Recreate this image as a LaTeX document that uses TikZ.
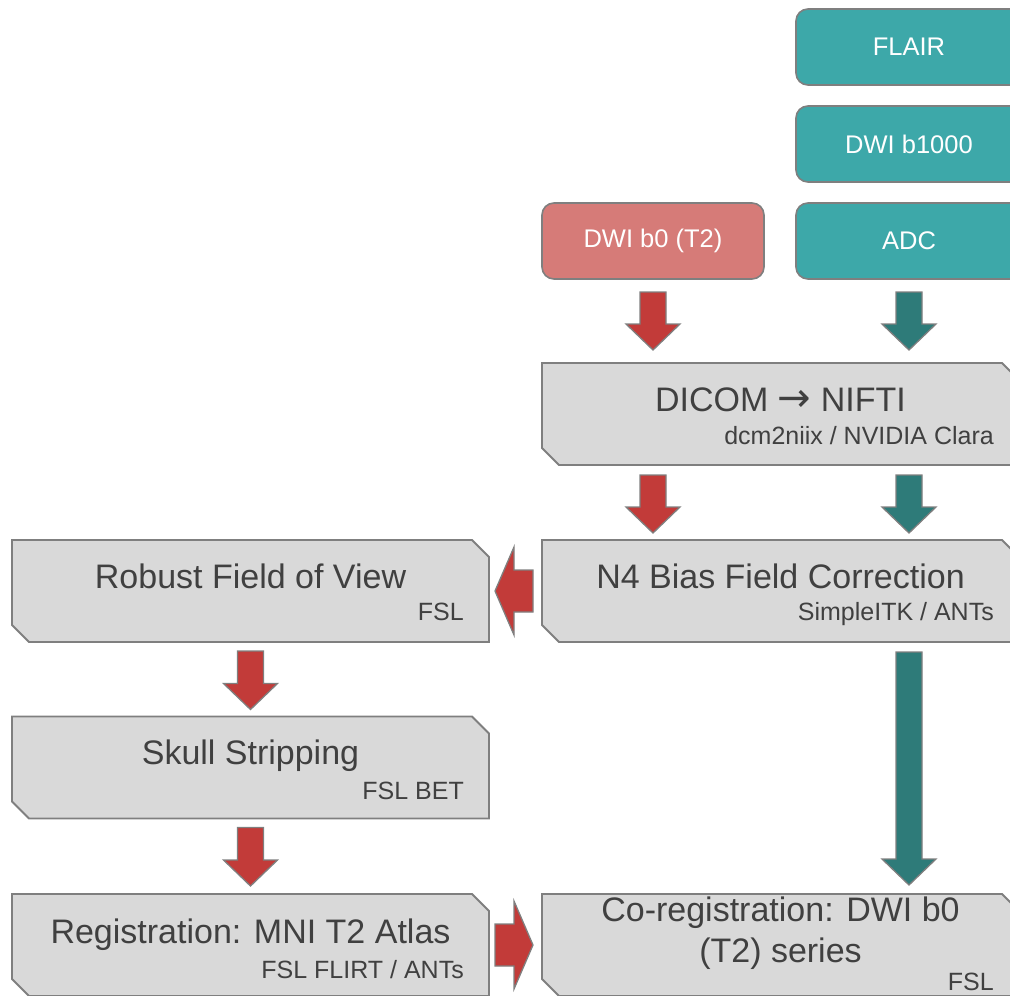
\documentclass[tikz,border=0pt]{standalone}
\usepackage{fontspec}
\setmainfont{Liberation Sans}
\newfontfamily\arrowfont{DejaVu Sans}
\usetikzlibrary{calc}

\definecolor{tealbox}{HTML}{3DA8A9}
\definecolor{pinkbox}{HTML}{D67B78}
\definecolor{redarrow}{HTML}{C23B39}
\definecolor{tealarrow}{HTML}{2E7B79}
\definecolor{stagefill}{HTML}{D9D9D9}
\definecolor{edgegray}{HTML}{7F7F7F}
\definecolor{inkgray}{HTML}{404040}

% block arrow: #1 style, #2 tail, #3 tip, #4 half shaft width, #5 half head width, #6 head length
\newcommand\blockarrow[6]{%
  \coordinate (hb) at ($(#3)!#6!(#2)$);
  \path[#1] ($(#2)!#4!90:(#3)$) -- ($(hb)!#4!90:(#3)$) -- ($(hb)!#5!90:(#3)$) -- (#3)
    -- ($(hb)!#5!-90:(#3)$) -- ($(hb)!#4!-90:(#3)$) -- ($(#2)!#4!-90:(#3)$) -- cycle;
}
% processing stage outline with snipped north-east and south-west corners
\newcommand\snipframe[1]{%
  \path[stageframe] (#1.north west) -- ($(#1.north east)+(-17pt,0)$) -- ($(#1.north east)+(0,-17pt)$)
    -- (#1.south east) -- ($(#1.south west)+(17pt,0)$) -- ($(#1.south west)+(0,17pt)$) -- cycle;
}

\tikzset{
  series/.style={rounded corners=12pt, draw=edgegray, line width=1.6pt, text=white,
    font=\fontsize{25.5}{30}\selectfont, minimum height=76pt, inner sep=0pt, outer sep=0pt},
  tealseries/.style={series, fill=tealbox, minimum width=226pt},
  pinkseries/.style={series, fill=pinkbox, minimum width=222pt},
  stage/.style={minimum width=477pt, minimum height=102pt, inner sep=0pt, outer sep=0pt},
  stageframe/.style={fill=stagefill, draw=edgegray, line width=1.8pt, line join=miter},
  stagemain/.style={text=inkgray, font=\fontsize{34}{40}\selectfont, inner sep=0pt, anchor=base},
  stagesub/.style={text=inkgray, font=\fontsize{25}{30}\selectfont, inner sep=0pt, anchor=base east},
  redblk/.style={fill=redarrow, draw=edgegray, line width=1.3pt, line join=miter},
  tealblk/.style={fill=tealarrow, draw=edgegray, line width=1.3pt, line join=miter},
}

\begin{document}
\begin{tikzpicture}[x=1pt, y=-1pt]
\useasboundingbox (0,0) rectangle (1010,996);
\clip (0,0) rectangle (1010,996);

% input series
\node[tealseries] (flair) at (909,47) {FLAIR};
\node[tealseries] (dwi)   at (909,144) {DWI b1000};
\node[tealseries] (adc)   at (909,241) {ADC};
\node[pinkseries] (b0)    at (653,241) {DWI b0 (T2)};

% processing stages
\node[stage] (dicom)  at (780.5,414) {};
\node[stage] (n4)     at (780.5,591) {};
\node[stage] (robust) at (250.5,591) {};
\node[stage] (skull)  at (250.5,767.5) {};
\node[stage] (reg)    at (250.5,945) {};
\node[stage] (coreg)  at (780.5,945) {};
\snipframe{dicom}
\snipframe{n4}
\snipframe{robust}
\snipframe{skull}
\snipframe{reg}
\snipframe{coreg}

\node[stagemain] (dicomA) at ($(dicom.north)+(0,-48pt)$) {DICOM {\arrowfont\fontsize{40}{40}\selectfont →} NIFTI};
\node[stagesub] (dicomB) at ($(dicom.north east)+(-25pt,-81pt)$) {dcm2niix / NVIDIA Clara};
\node[stagemain] (n4A) at ($(n4.north)+(0,-48pt)$) {N4 Bias Field Correction};
\node[stagesub] (n4B) at ($(n4.north east)+(-25pt,-80pt)$) {SimpleITK / ANTs};
\node[stagemain] (robustA) at ($(robust.north)+(0,-48pt)$) {Robust Field of View};
\node[stagesub] (robustB) at ($(robust.north east)+(-25pt,-80pt)$) {FSL};
\node[stagemain] (skullA) at ($(skull.north)+(0,-48pt)$) {Skull Stripping};
\node[stagesub] (skullB) at ($(skull.north east)+(-25pt,-83pt)$) {FSL BET};
\node[stagemain] (regA) at ($(reg.north)+(0,-49pt)$) {Registration: MNI T2 Atlas};
\node[stagesub] (regB) at ($(reg.north east)+(-25pt,-84pt)$) {FSL FLIRT / ANTs};
\node[stagemain] (coregA) at ($(coreg.north)+(0,-27pt)$) {Co-registration: DWI b0};
\node[stagemain] (coregB) at ($(coreg.north)+(0,-68pt)$) {(T2) series};
\node[stagesub] (coregC) at ($(coreg.north east)+(-25pt,-96pt)$) {FSL};

% connectors
\coordinate (r1t) at ($(b0.south)+(0,-13pt)$);
\coordinate (r1h) at ($(b0.south |- dicom.north)+(0,13pt)$);
\coordinate (t1t) at ($(adc.south)+(0,-13pt)$);
\coordinate (t1h) at ($(adc.south |- dicom.north)+(0,13pt)$);
\coordinate (r2t) at ($(b0.south |- dicom.south)+(0,-10pt)$);
\coordinate (r2h) at ($(b0.south |- n4.north)+(0,7pt)$);
\coordinate (t2t) at ($(adc.south |- dicom.south)+(0,-10pt)$);
\coordinate (t2h) at ($(adc.south |- n4.north)+(0,7pt)$);
\coordinate (t3t) at ($(adc.south |- n4.south)+(0,-10pt)$);
\coordinate (t3h) at ($(adc.south |- coreg.north)+(0,9pt)$);
\coordinate (lt)  at ($(n4.west)+(-9pt,0)$);
\coordinate (lh)  at ($(robust.east)+(6pt,0)$);
\coordinate (r3t) at ($(robust.south)+(0,-9pt)$);
\coordinate (r3h) at ($(skull.north)+(0,7pt)$);
\coordinate (r4t) at ($(skull.south)+(0,-9pt)$);
\coordinate (r4h) at ($(reg.north)+(0,8pt)$);
\coordinate (rt)  at ($(reg.east)+(6pt,0)$);
\coordinate (rh)  at ($(coreg.west)+(-9pt,0)$);

\blockarrow{redblk}{r1t}{r1h}{13pt}{27pt}{26pt}
\blockarrow{tealblk}{t1t}{t1h}{13pt}{27pt}{26pt}
\blockarrow{redblk}{r2t}{r2h}{13pt}{27pt}{26pt}
\blockarrow{tealblk}{t2t}{t2h}{13pt}{27pt}{26pt}
\blockarrow{tealblk}{t3t}{t3h}{13pt}{27pt}{26pt}
\blockarrow{redblk}{lt}{lh}{21pt}{44pt}{19pt}
\blockarrow{redblk}{r3t}{r3h}{13pt}{27pt}{26pt}
\blockarrow{redblk}{r4t}{r4h}{13pt}{27pt}{26pt}
\blockarrow{redblk}{rt}{rh}{21pt}{44pt}{19pt}
\end{tikzpicture}
\end{document}
